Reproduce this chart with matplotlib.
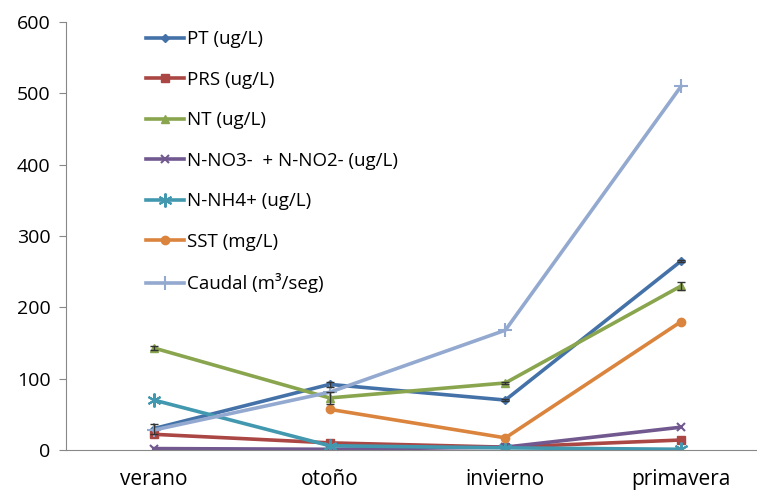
import numpy as np
import matplotlib.pyplot as plt

plt.rcParams['font.family'] = ['Open Sans', 'DejaVu Sans']

# estaciones del año
estaciones = ['verano', 'otoño', 'invierno', 'primavera']

# valores medios por estación
pt = [30, 92, 70, 265]
prs = [22, 10, 4, 14]
nt = [143, 73, 94, 230]
no3_no2 = [2, 1, 4, 32]
nh4 = [70, 6, 3, 1]
sst = [np.nan, 57, 17, 180]
caudal = [28, 81, 168, 510]

# desvíos (barras de error)
pt_err = [7, 4, 2, 2]
nt_err = [3, 8, 2, 5]

x = np.arange(len(estaciones))

fig = plt.figure(figsize=(7.57, 4.95), dpi=100)
ax = fig.add_axes([66/757, 45/495, 703/757, 428/495])

lw = 2.6
ax.plot(x, pt, label='PT (ug/L)', color='#4472a8', marker='D', ms=4, lw=lw)
ax.plot(x, prs, label='PRS (ug/L)', color='#aa4643', marker='s', ms=6, lw=lw)
ax.plot(x, nt, label='NT (ug/L)', color='#89a54e', marker='^', ms=6, lw=lw)
ax.plot(x, no3_no2, label='N-NO3-  + N-NO2- (ug/L)', color='#71588f', marker='x', ms=6,
        mew=1.5, lw=lw)
ax.plot(x, nh4, label='N-NH4+ (ug/L)', color='#4198af', marker=(6, 2, 0), ms=10,
        mew=1.5, lw=lw)
ax.plot(x, sst, label='SST (mg/L)', color='#db843d', marker='o', ms=6, lw=lw)
ax.plot(x, caudal, label='Caudal (m³/seg)', color='#93a9cf', marker='+', ms=10,
        mew=1.5, lw=lw)

# barras de error de PT y NT
ax.errorbar(x, pt, yerr=pt_err, fmt='none', ecolor='#333333', elinewidth=1, capsize=3)
ax.errorbar(x, nt, yerr=nt_err, fmt='none', ecolor='#333333', elinewidth=1, capsize=3)

ax.set_xlim(-0.5, 3.5)
ax.set_ylim(0, 600)
ax.set_xticks(x)
ax.set_xticklabels(estaciones, fontsize=15)
ax.set_yticks(range(0, 601, 100))
ax.tick_params(axis='y', labelsize=14, length=5, color='#888888', pad=6)
ax.tick_params(axis='x', length=0, pad=14)

for lado in ['top', 'right']:
    ax.spines[lado].set_visible(False)
for lado in ['left', 'bottom']:
    ax.spines[lado].set_color('#888888')

leg = ax.legend(loc='upper left', bbox_to_anchor=(0.09, 1.02), frameon=False,
                fontsize=13.5, labelspacing=1.2, handlelength=2.0, handletextpad=0.2)

plt.savefig('out.png', dpi=100)
